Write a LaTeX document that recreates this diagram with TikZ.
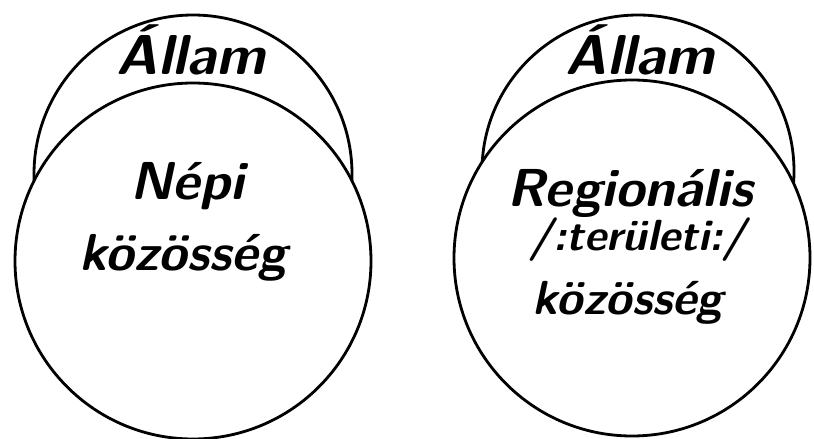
\documentclass[tikz,border=0pt]{standalone}
\usepackage{fontspec}
\usepackage{tikz}
\tikzset{ring/.style={line width=2pt,black},
  hand/.style={font=\fontsize{#1}{#1}\selectfont\sffamily\bfseries\itshape,inner sep=0pt,align=center},
  hand/.default=34}

\begin{document}
\begin{tikzpicture}[x=0.025cm,y=-0.025cm]
\useasboundingbox (0,0) rectangle (814,439);
% upper (Allam) circles first, the larger circles cover them
\foreach \n/\ux/\uy/\ur/\bx/\by/\br in {L/193/174/159/193/261/178,R/638/171/156/632/258/178}{
  \draw[ring] (\ux,\uy) circle[radius=\ur];
  \filldraw[ring,fill=white] (\bx,\by) circle[radius=\br];
}
\node[hand=40] (allamL) at (191,50) {Állam};
\node[hand=38] (nepi) at (187,186) {Népi};
\node[hand=37] (kozL) at (183,258) {közösség};
\node[hand=40] (allamR) at (640,50) {Állam};
\node[hand=38] (regio) at (630,193) {Regionális};
\node[hand=31] (terul) at (638,240) {/:területi:/};
\node[hand] (kozR) at (628,303) {közösség};
\end{tikzpicture}
\end{document}
